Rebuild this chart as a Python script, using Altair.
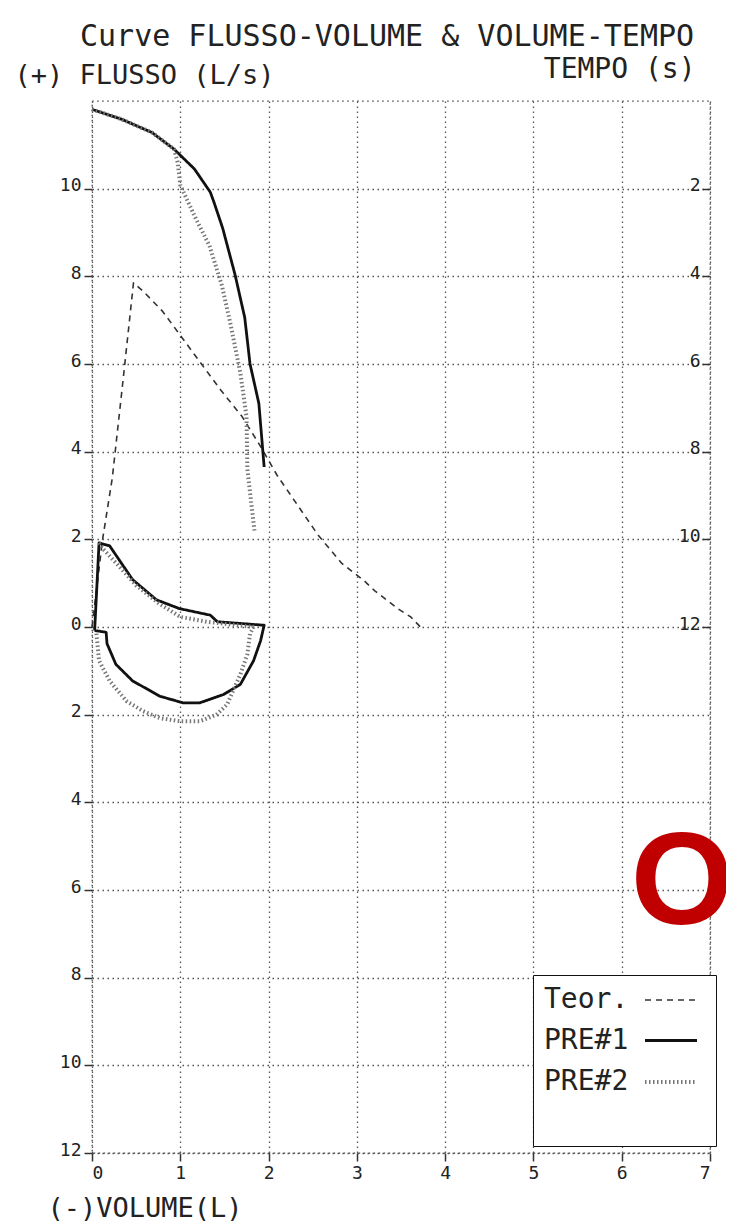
import altair as alt
import pandas as pd

# ---------------- data ----------------
series_names = ["Teor.", "PRE#1", "PRE#2"]

# Teor. (predicted curve)
teor_vol = [0.0, 0.12, 0.23, 0.35, 0.47, 0.58, 0.80, 1.02, 1.24, 1.46, 1.70, 1.90, 2.10, 2.56, 2.83, 3.08, 3.20, 3.47, 3.61, 3.72]
teor_flow = [0.0, 2.0, 3.4, 5.6, 7.85, 7.66, 7.2, 6.6, 6.0, 5.4, 4.8, 4.15, 3.45, 2.1, 1.45, 1.06, 0.83, 0.41, 0.23, 0.0]

# PRE#1 expiratory limb
pre1_exp_vol = [0.0, 0.34, 0.68, 0.93, 1.16, 1.34, 1.38, 1.48, 1.62, 1.73, 1.79, 1.89, 1.95]
pre1_exp_flow = [11.81, 11.58, 11.28, 10.9, 10.45, 9.92, 9.7, 9.1, 8.04, 7.06, 6.0, 5.1, 3.65]

# PRE#1 small loop
pre1_loop_vol = [0.03, 0.08, 0.20, 0.46, 0.73, 0.99, 1.34, 1.42, 1.95, 1.91, 1.83, 1.68, 1.49, 1.22, 1.03, 0.77, 0.46, 0.27, 0.17, 0.16, 0.03]
pre1_loop_flow = [-0.08, 1.92, 1.85, 1.08, 0.62, 0.42, 0.27, 0.12, 0.04, -0.31, -0.77, -1.31, -1.54, -1.73, -1.73, -1.58, -1.23, -0.85, -0.38, -0.12, -0.08]

# PRE#2 expiratory limb
pre2_exp_vol = [0.0, 0.34, 0.68, 0.93, 0.97, 1.0, 1.18, 1.33, 1.47, 1.57, 1.68, 1.75, 1.76, 1.84]
pre2_exp_flow = [11.81, 11.58, 11.28, 10.9, 10.6, 10.08, 9.3, 8.7, 7.8, 6.9, 5.8, 4.8, 3.6, 2.2]

# PRE#2 upper part of loop
pre2_up_vol = [0.08, 0.13, 0.30, 0.50, 0.75, 1.0, 1.3, 1.6, 1.84]
pre2_up_flow = [1.92, 1.77, 1.4, 0.95, 0.55, 0.23, 0.12, 0.05, 0.0]

# PRE#2 lower (inspiratory) part
pre2_low_vol = [0.05, 0.08, 0.20, 0.39, 0.58, 0.77, 1.0, 1.22, 1.41, 1.53, 1.68, 1.76, 1.79, 1.83]
pre2_low_flow = [-0.15, -0.77, -1.23, -1.69, -1.92, -2.08, -2.15, -2.15, -2.0, -1.77, -1.08, -0.62, -0.15, 0.0]

vol_ticks = [0, 1, 2, 3, 4, 5, 6, 7]
flow_ticks = [10, 8, 6, 4, 2, 0, -2, -4, -6, -8, -10, -12]
tempo_ticks = [2, 4, 6, 8, 10, 12]

# ---------------- table ----------------
rows = []
def add(serie, seg, vols, flows):
    for i, (v, f) in enumerate(zip(vols, flows)):
        rows.append({"serie": serie, "seg": seg, "idx": i, "vol": v, "flow": f})

add("Teor.", "t", teor_vol, teor_flow)
add("PRE#1", "p1a", pre1_exp_vol, pre1_exp_flow)
add("PRE#1", "p1b", pre1_loop_vol, pre1_loop_flow)
add("PRE#2", "p2a", pre2_exp_vol, pre2_exp_flow)
add("PRE#2", "p2b", pre2_up_vol, pre2_up_flow)
add("PRE#2", "p2c", pre2_low_vol, pre2_low_flow)
df = pd.DataFrame(rows)

FONT = "DejaVu Sans Mono"
W, H = 618, 1052

leg = alt.Legend(
    title=" ", orient="none", legendX=441, legendY=874,
    titleOrient="bottom", titleFontSize=26, titlePadding=13,
    symbolType="M-2,0H2", symbolSize=676, symbolOffset=112, labelOffset={"expr": "-142"},
    labelFont=FONT, labelFontSize=28, labelColor="#222",
    fillColor="white", strokeColor="#111", padding=11, rowPadding=12,
)

lines = alt.Chart(df).mark_line(strokeJoin="round").encode(
    x=alt.X("vol:Q", scale=alt.Scale(domain=[0, 7], nice=False, zero=False),
            axis=alt.Axis(values=vol_ticks, format="d", title="(-)VOLUME(L)",
                          titleX=-45, titleY=55, titleAlign="left", titleBaseline="middle",
                          titleAngle=0, titleFontSize=27, titleFont=FONT, titleFontWeight="normal",
                          titleColor="#222", grid=True, tickSize=8, labelPadding=3)),
    y=alt.Y("flow:Q", scale=alt.Scale(domain=[-12, 12], nice=False, zero=False),
            axis=alt.Axis(values=flow_ticks, labelExpr="'' + abs(datum.value)",
                          title="(+) FLUSSO (L/s)", titleX=-78, titleY=-26, titleAlign="left",
                          titleBaseline="middle", titleAngle=0, titleFontSize=27, titleFont=FONT,
                          titleFontWeight="normal", titleColor="#222",
                          grid=True, tickSize=8, labelPadding=3, labelBaseline="alphabetic",
                          labelOffset=2)),
    color=alt.Color("serie:N", scale=alt.Scale(domain=series_names, range=["#333", "#111", "#777"]), legend=leg),
    strokeDash=alt.StrokeDash("serie:N", scale=alt.Scale(domain=series_names, range=[[6, 5], [1, 0], [1.5, 2.5]]), legend=leg),
    strokeWidth=alt.StrokeWidth("serie:N", scale=alt.Scale(domain=series_names, range=[1.6, 4.0, 1.1]), legend=leg),
    detail="seg:N",
    order="idx:Q",
)

tempo_layer = alt.Chart(pd.DataFrame({"tempo": tempo_ticks})).mark_point(opacity=0).encode(
    y=alt.Y("tempo:Q", scale=alt.Scale(domain=[0, 24], reverse=True, nice=False, zero=False),
            axis=alt.Axis(orient="right", values=tempo_ticks, title="TEMPO (s)", offset=-8,
                          tickSize=8, labelPadding=-10, labelAlign="right", labelBaseline="alphabetic",
                          labelOffset=2, grid=False,
                          titleX=-7, titleY=-32, titleAlign="right", titleBaseline="middle",
                          titleAngle=0, titleFontSize=28, titleFont=FONT, titleFontWeight="normal",
                          titleColor="#222")),
)

mark_o = alt.Chart(pd.DataFrame({"t": ["O"]})).mark_text(
    font="Liberation Sans", fontWeight="bold", fontSize=132, color="#C00000",
    align="center", baseline="middle",
).encode(text="t:N", x=alt.value(590), y=alt.value(783))

chart = alt.layer(lines, tempo_layer, mark_o).resolve_scale(y="independent").properties(
    width=W, height=H,
    background="white",
    autosize=alt.AutoSizeParams(type="none"),
    padding={"left": 84, "top": 93, "right": 16, "bottom": 68},
    title=alt.TitleParams("Curve FLUSSO-VOLUME & VOLUME-TEMPO", anchor="start", frame="group",
                          dx=-12, dy=5,
                          font=FONT, fontSize=30, fontWeight="normal", color="#222", offset=8),
).configure_view(
    stroke="#444", strokeDash=[1.5, 3.5], strokeWidth=1.3,
).configure_axis(
    domain=False, gridColor="#444", gridDash=[1.5, 3.5], gridWidth=1.3, gridOpacity=0.9,
    tickColor="#333", tickWidth=1.5, labelFont=FONT, labelFontSize=18, labelColor="#222",
)

chart.save("out.html", embed_options={"renderer": "svg", "actions": False})
